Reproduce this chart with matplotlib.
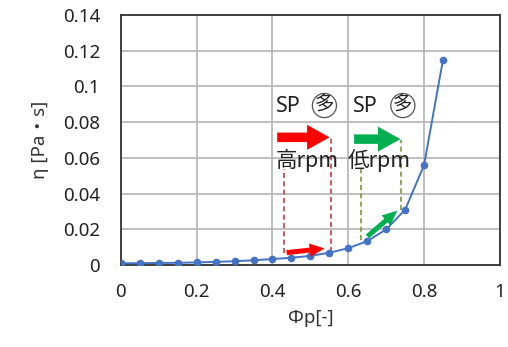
import matplotlib
matplotlib.use("Agg")
import matplotlib.pyplot as plt

plt.rcParams['font.family'] = ['Noto Sans', 'Noto Sans CJK JP', 'DejaVu Sans']

# volume fraction vs viscosity
phi = [0.0, 0.05, 0.10, 0.15, 0.20, 0.25, 0.30, 0.35, 0.40, 0.45,
       0.50, 0.55, 0.60, 0.65, 0.70, 0.75, 0.80, 0.85]
eta = [0.0010, 0.0011, 0.0012, 0.0013, 0.0015, 0.0018, 0.0022, 0.0027, 0.0034, 0.0041,
       0.0052, 0.0069, 0.0095, 0.0134, 0.0200, 0.0310, 0.0560, 0.1150]

# annotation geometry (data coords)
red_x = [0.43, 0.555]
red_top = [0.054, 0.071]
red_bot = [0.0065, 0.0072]
green_x = [0.633, 0.74]
green_top = [0.054, 0.070]
green_bot = [0.0140, 0.0310]

LINE = "#4472C4"
RED = "#FF0000"
GREEN = "#00B050"

fig = plt.figure(figsize=(5.08, 3.47), dpi=100)
ax = fig.add_axes([0.238, 0.236, 0.746, 0.721])

ax.plot(phi, eta, "-o", color=LINE, lw=1.4, ms=4.5, zorder=3)

ax.set_xlim(0, 1)
ax.set_ylim(0, 0.14)
ax.set_xticks([0, 0.2, 0.4, 0.6, 0.8, 1])
ax.set_xticklabels(["0", "0.2", "0.4", "0.6", "0.8", "1"])
ax.set_yticks([0, 0.02, 0.04, 0.06, 0.08, 0.1, 0.12, 0.14])
ax.set_yticklabels(["0", "0.02", "0.04", "0.06", "0.08", "0.1", "0.12", "0.14"])
ax.tick_params(length=0, labelsize=13.5, colors="#222222")
ax.tick_params(axis="x", pad=13)
ax.tick_params(axis="y", pad=15)
ax.grid(True, color="#b4b4b4", lw=1.2)
ax.set_axisbelow(True)
for s in ax.spines.values():
    s.set_color("#333333"); s.set_linewidth(1.3)

ax.set_xlabel("Φp[-]", fontsize=13.5, color="#333333", labelpad=6)
ax.set_ylabel("η [Pa・s]", fontsize=13.5, color="#333333", labelpad=10)

# dashed guides
for x, t, b in zip(red_x, red_top, red_bot):
    ax.plot([x, x], [b, t], ls=(0, (3, 2)), color="#D23A3A", lw=1.2, zorder=2)
for x, t, b in zip(green_x, green_top, green_bot):
    ax.plot([x, x], [b, t], ls=(0, (3, 2)), color="#7A9A3A", lw=1.2, zorder=2)

# big arrows
big = dict(arrowstyle="simple,head_length=0.9,head_width=1.0,tail_width=0.38",
           mutation_scale=18, lw=0)
ax.annotate("", xy=(0.558, 0.0715), xytext=(0.405, 0.0715),
            arrowprops=dict(big, color=RED), zorder=4)
ax.annotate("", xy=(0.745, 0.0705), xytext=(0.608, 0.0705),
            arrowprops=dict(big, color=GREEN), zorder=4)

# small arrows along curve
small = dict(arrowstyle="simple,head_length=0.9,head_width=0.8,tail_width=0.3",
             mutation_scale=12, lw=0)
ax.annotate("", xy=(0.545, 0.0095), xytext=(0.43, 0.0068),
            arrowprops=dict(small, color=RED), zorder=4)
ax.annotate("", xy=(0.735, 0.0315), xytext=(0.645, 0.0150),
            arrowprops=dict(small, color=GREEN), zorder=4)

# labels
for xs, xc in [(0.41, 0.537), (0.612, 0.744)]:
    ax.text(xs, 0.089, "SP", fontsize=15.5, color="#222222", va="center", ha="left")
    ax.text(xc, 0.0893, "多", fontsize=14, color="#222222", va="center", ha="center",
            family="Noto Sans CJK JP",
            bbox=dict(boxstyle="circle,pad=0.08", fc="white", ec="#555555", lw=0.9))
ax.text(0.408, 0.0585, "高rpm", fontsize=15.5, color="#222222", va="center", ha="left",
        family=["Noto Sans CJK JP"])
ax.text(0.598, 0.0585, "低rpm", fontsize=15.5, color="#222222", va="center", ha="left",
        family=["Noto Sans CJK JP"])

fig.savefig("out.png", dpi=100)
